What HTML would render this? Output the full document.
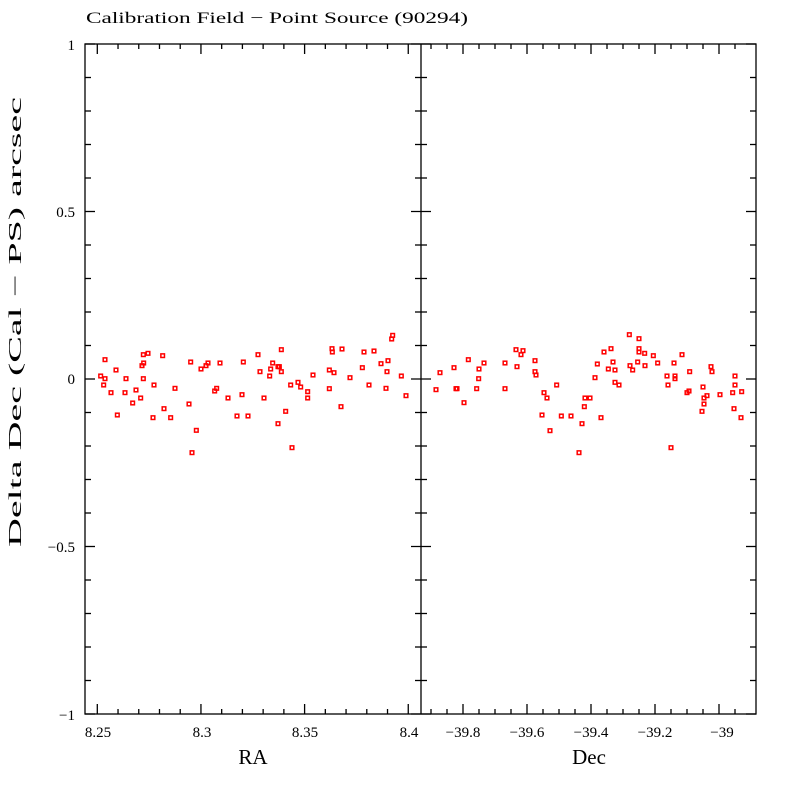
<!DOCTYPE html>
<html><head><meta charset="utf-8"><style>body{margin:0;background:#fff}svg{display:block}text{font-family:"Liberation Serif",serif;fill:#000}</style></head>
<body>
<svg id="s" width="800" height="800" xmlns="http://www.w3.org/2000/svg">
<rect x="0" y="0" width="800" height="800" fill="#fff"/>
<text x="86" y="23" font-size="16" textLength="382" lengthAdjust="spacingAndGlyphs">Calibration Field − Point Source (90294)</text>
<g font-size="15" text-anchor="end">
<text x="75" y="50">1</text>
<text x="75" y="217">0.5</text>
<text x="75" y="384">0</text>
<text x="75" y="552">−0.5</text>
<text x="75" y="720">−1</text>
</g>
<g font-size="15" text-anchor="middle">
<text x="98" y="737">8.25</text>
<text x="202" y="737">8.3</text>
<text x="305" y="737">8.35</text>
<text x="409" y="737">8.4</text>
<text x="463" y="737">−39.8</text>
<text x="527" y="737">−39.6</text>
<text x="591" y="737">−39.4</text>
<text x="655" y="737">−39.2</text>
<text x="722" y="737">−39</text>
</g>
<text x="253" y="764" font-size="21" text-anchor="middle">RA</text>
<text x="589" y="764" font-size="21" text-anchor="middle">Dec</text>
<text transform="translate(21,322) rotate(-90)" font-size="18" text-anchor="middle" textLength="450" lengthAdjust="spacingAndGlyphs">Delta Dec (Cal − PS) arcsec</text>
<g id="ax" stroke="#000" stroke-width="1.3" fill="none">
<rect x="85" y="44" width="671" height="670"/>
<line x1="421" y1="44" x2="421" y2="714"/>
</g>
<g id="pts" fill="none" stroke="#f00" stroke-width="1.5"></g>
</svg>
<script>
var ax=document.getElementById('ax'),ns='http://www.w3.org/2000/svg';
function L(x1,y1,x2,y2){var l=document.createElementNS(ns,'line');l.setAttribute('x1',x1);l.setAttribute('y1',y1);l.setAttribute('x2',x2);l.setAttribute('y2',y2);ax.appendChild(l);}
for(var i=0;i<=20;i++){var y=44+i*33.5,len=(i%5==0)?10:6;
L(85,y,85+len,y);L(756,y,756-len,y);L(421-len,y,421+len,y);}
for(var i=0;i<=15;i++){var x=97.3+i*20.73,len=(i%5==0)?10:5;L(x,714,x,714-len);L(x,44,x,44+len);}
for(var v=-39.95;v<=-38.95;v+=0.05){var x=719+(v+39)*320;if(x<=423||x>=755)continue;var k=Math.round(v*20),len=(k%4==0)?10:5;L(x,714,x,714-len);L(x,44,x,44+len);}
var A=[62,168,75,119,75,176,71,195,93,218,108,150,112,285,138,176,135,218,158,249,168,210,182,234,186,137,191,129,190,104,204,100,190,176,222,195,219,293,248,107,252,266,272,293,285,205,327,252,332,126,349,331,336,398,363,147,378,137,384,129,404,213,410,205,420,129,444,234,471,288,486,224,490,126,504,288,534,104,540,155,552,234,572,147,578,129,569,168,594,140,598,140,604,89,604,155,594,311,617,274,636,383,632,195,654,187,662,201,683,215,683,234,699,165,748,150,748,206,756,86,757,96,762,158,783,260,786,87,810,173,847,143,852,96,867,195,882,93,903,131,918,205,921,155,924,122,935,57,938,46,964,168,978,227];
var B=[48,209,60,158,102,143,108,206,111,206,132,248,145,119,170,206,176,176,177,147,192,129,255,129,255,206,288,89,291,140,303,104,309,92,345,122,345,155,348,165,372,218,381,234,366,285,390,332,410,195,424,288,453,288,477,398,486,311,493,260,495,234,510,234,525,173,532,132,543,293,552,96,565,147,573,86,579,126,585,150,585,187,597,195,628,44,630,137,638,150,653,126,657,56,657,86,657,96,674,100,675,137,700,107,713,129,741,168,744,195,762,129,765,168,765,176,786,104,801,218,807,213,809,155,846,274,849,201,852,234,852,252,861,227,873,140,876,155,900,224,938,218,942,266,945,168,945,195,963,293,965,215,753,383];
var g=document.getElementById('pts');
function P(a,ox){for(var i=0;i<a.length;i+=2){var r=document.createElementNS(ns,'rect');r.setAttribute('x',ox+a[i]/3-1.8);r.setAttribute('y',320+a[i+1]/3-1.8);r.setAttribute('width',3.6);r.setAttribute('height',3.6);g.appendChild(r);}}
P(A,80);P(B,420);
</script>
</body></html>
